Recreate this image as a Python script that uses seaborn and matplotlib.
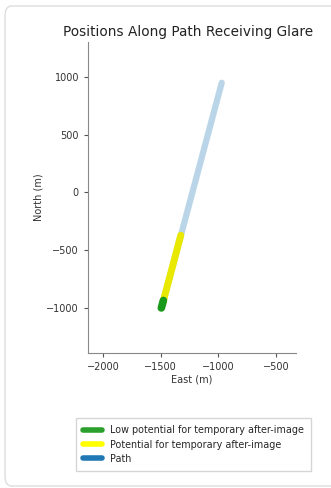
import matplotlib
matplotlib.use("Agg")
import matplotlib.pyplot as plt
from matplotlib.patches import FancyBboxPatch
from matplotlib.lines import Line2D
import seaborn as sns
import pandas as pd

sns.set_style("white")
plt.rcParams["font.family"] = ["DejaVu Sans"]

# Path route (east, north) in metres
path_east = [-1490, -970]
path_north = [-990, 950]

# Segment receiving glare with potential for temporary after-image
glare_east = [-1482, -1325]
glare_north = [-960, -370]

# Segment with low potential for temporary after-image
low_east = [-1494, -1476]
low_north = [-1000, -935]

legend_labels = [
    "Low potential for temporary after-image",
    "Potential for temporary after-image",
    "Path",
]
legend_colors = ["#2ca02c", "#ffff00", "#1f77b4"]

fig = plt.figure(figsize=(3.31, 4.88), dpi=100)
ax = fig.add_axes([88 / 331, 1 - 353 / 488, 208 / 331, 311 / 488])

sns.lineplot(x=path_east, y=path_north, ax=ax, color="#1f77b4", alpha=0.3,
             linewidth=4.5, sort=False, estimator=None)
sns.lineplot(x=glare_east, y=glare_north, ax=ax, color="#e8e800",
             linewidth=5, sort=False, estimator=None)
sns.lineplot(x=low_east, y=low_north, ax=ax, color="#1a9a1a",
             linewidth=5.5, sort=False, estimator=None)

ax.set_xlim(-2130, -326)
ax.set_ylim(-1390, 1303)
ax.set_xticks([-2000, -1500, -1000, -500])
ax.set_yticks([-1000, -500, 0, 500, 1000])
ax.tick_params(axis="both", labelsize=7, length=3, color="#555555",
               left=True, bottom=True, labelcolor="#333333")
for s in ["top", "right"]:
    ax.spines[s].set_visible(False)
for s in ["left", "bottom"]:
    ax.spines[s].set_color("#888888")
    ax.spines[s].set_linewidth(0.8)
ax.set_xlabel("East (m)", fontsize=7, color="#333333", labelpad=2)
ax.set_ylabel("North (m)", fontsize=7, color="#333333", labelpad=2)
ax.set_title("Positions Along Path Receiving Glare", fontsize=9.8,
             color="#222222", pad=4.5, x=0.48)

handles = [Line2D([0], [0], color=c, linewidth=4) for c in legend_colors]
fig.legend(handles, legend_labels, loc="upper left",
           bbox_to_anchor=(76 / 331, 1 - 418 / 488), fontsize=6.9,
           frameon=True, edgecolor="#cccccc", fancybox=False,
           handlelength=2.0, handletextpad=0.8, labelspacing=0.45,
           borderpad=0.75, borderaxespad=0)

frame = FancyBboxPatch((5 / 331, 2 / 488), 340 / 331, 480 / 488,
                       boxstyle="round,pad=0,rounding_size=0.02",
                       transform=fig.transFigure, facecolor="none",
                       edgecolor="#dddddd", linewidth=1.0)
fig.patches.append(frame)

fig.savefig("out.png", dpi=100)
